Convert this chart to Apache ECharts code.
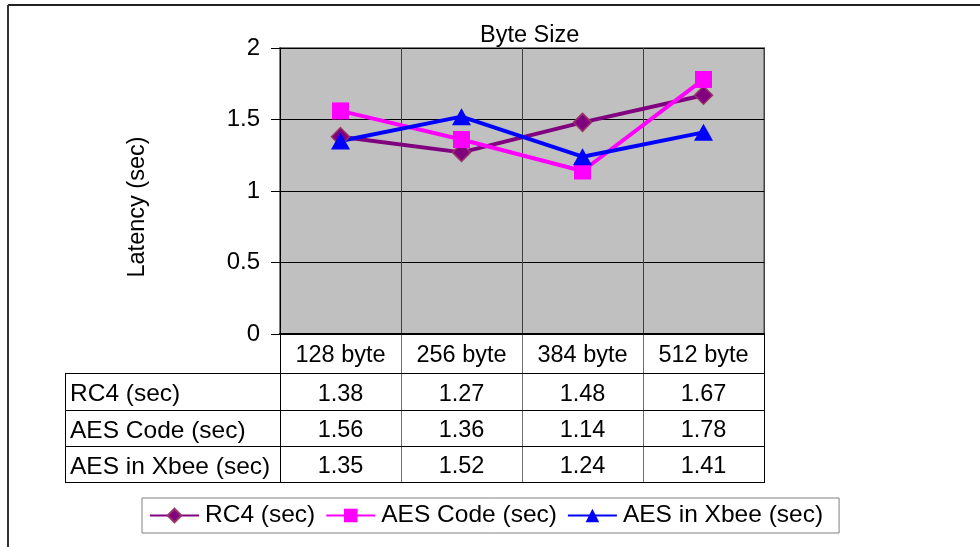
<!DOCTYPE html>
<html>
<head>
<meta charset="utf-8">
<script src="https://cdn.jsdelivr.net/npm/echarts@6/dist/echarts.min.js"></script>
<style>
  html, body { margin: 0; padding: 0; background: #fff; }
  #main { width: 980px; height: 547px; }
</style>
</head>
<body>
<div id="main"></div>
<script>
// data
const categories = ["128 byte", "256 byte", "384 byte", "512 byte"];
const seriesNames = ["RC4 (sec)", "AES Code (sec)", "AES in Xbee (sec)"];
const rc4 = [1.38, 1.27, 1.48, 1.67];
const aesCode = [1.56, 1.36, 1.14, 1.78];
const aesXbee = [1.35, 1.52, 1.24, 1.41];
const yMin = 0, yMax = 2, yStep = 0.5;

const FONT = "'Liberation Sans', Arial, sans-serif";
const colors = ["#800080", "#FF00FF", "#0000FF"];

const main = document.getElementById("main");
const myChart = echarts.init(main);

const option = {
  backgroundColor: "#fff",
  animation: false,
  title: {
    text: "Byte Size",
    left: 475,
    top: 19,
    textStyle: { fontFamily: FONT, fontSize: 23.5, fontWeight: "normal", color: "#000" }
  },
  grid: {
    left: 280,
    right: 216,
    top: 48,
    bottom: 213,
    show: true,
    backgroundColor: "#C0C0C0",
    borderColor: "#808080",
    borderWidth: 2
  },
  legend: {
    data: seriesNames,
    left: 142,
    top: 498,
    itemWidth: 49,
    itemHeight: 17,
    itemGap: 10,
    padding: [5, 16, 5, 7],
    borderColor: "#808080",
    borderWidth: 1,
    textStyle: { fontFamily: FONT, fontSize: 24.5, color: "#000", padding: [0, 0, 0, 1] }
  },
  xAxis: {
    type: "category",
    data: categories,
    boundaryGap: true,
    axisTick: { show: false },
    axisLine: { lineStyle: { color: "#000", width: 2 } },
    axisLabel: { fontFamily: FONT, fontSize: 23.5, color: "#000", margin: 10, interval: 0 },
    splitLine: { show: true, interval: 0, lineStyle: { color: "#404040", width: 1 } }
  },
  yAxis: {
    type: "value",
    min: yMin,
    max: yMax,
    interval: yStep,
    name: "Latency (sec)",
    nameLocation: "middle",
    nameGap: 130,
    nameTextStyle: { fontFamily: FONT, fontSize: 23.5, color: "#000", padding: [0, 32, 0, 0] },
    axisLine: { show: true, lineStyle: { color: "#000", width: 1 } },
    axisTick: { show: true, length: 9, lineStyle: { color: "#000" } },
    axisLabel: { fontFamily: FONT, fontSize: 24, color: "#000", margin: 20 },
    splitLine: { show: true, lineStyle: { color: "#000", width: 1 } }
  },
  series: [
    {
      name: seriesNames[0],
      type: "line",
      data: rc4,
      symbol: "diamond",
      symbolSize: [18, 18],
      lineStyle: { color: colors[0], width: 4 },
      itemStyle: { color: colors[0], borderColor: "#993366", borderWidth: 1.5 }
    },
    {
      name: seriesNames[1],
      type: "line",
      data: aesCode,
      symbol: "rect",
      symbolSize: [17, 17],
      lineStyle: { color: colors[1], width: 4 },
      itemStyle: { color: colors[1] }
    },
    {
      name: seriesNames[2],
      type: "line",
      data: aesXbee,
      symbol: "triangle",
      symbolSize: [19, 17],
      lineStyle: { color: colors[2], width: 4 },
      itemStyle: { color: colors[2] }
    }
  ]
};

myChart.setOption(option);

// data table under the plot, placed on the category axis
function buildTable() {
  const rows = [rc4, aesCode, aesXbee];
  const rowLines = [373, 410, 446, 482];
  const tableLeft = 65;
  const axisY = 334;
  const centers = categories.map((c, i) => myChart.convertToPixel({ xAxisIndex: 0 }, i));
  const half = (centers[1] - centers[0]) / 2;
  const right = centers[centers.length - 1] + half;
  const els = [];

  // frame of the whole chart (left and top edges)
  els.push({ type: "line", shape: { x1: 8, y1: 5, x2: 980, y2: 5 }, style: { stroke: "#222", lineWidth: 2 } });
  els.push({ type: "line", shape: { x1: 8, y1: 5, x2: 8, y2: 547 }, style: { stroke: "#333", lineWidth: 2 } });

  // vertical cell lines
  centers.forEach((cx, i) => {
    const x = Math.round(cx - half) + 0.5;
    els.push({ type: "line", shape: { x1: x, y1: axisY, x2: x, y2: rowLines[3] },
      style: { stroke: i === 0 ? "#000" : "#707070", lineWidth: 1 } });
  });
  els.push({ type: "line", shape: { x1: Math.round(right) + 0.5, y1: axisY, x2: Math.round(right) + 0.5, y2: rowLines[3] },
    style: { stroke: "#000", lineWidth: 1 } });
  els.push({ type: "line", shape: { x1: tableLeft + 0.5, y1: rowLines[0], x2: tableLeft + 0.5, y2: rowLines[3] },
    style: { stroke: "#000", lineWidth: 1 } });

  // horizontal row lines
  rowLines.forEach(y => {
    els.push({ type: "line", shape: { x1: tableLeft, y1: y + 0.5, x2: Math.round(right) + 1, y2: y + 0.5 },
      style: { stroke: "#000", lineWidth: 1 } });
  });

  // row labels and values
  rows.forEach((vals, r) => {
    const cy = (rowLines[r] + rowLines[r + 1]) / 2 + 3;
    els.push({ type: "text", x: tableLeft + 5, y: cy,
      style: { text: seriesNames[r], font: "24.5px " + FONT, fill: "#000", align: "left", verticalAlign: "middle" } });
    vals.forEach((v, i) => {
      els.push({ type: "text", x: centers[i], y: cy,
        style: { text: v.toFixed(2), font: "23.5px " + FONT, fill: "#000", align: "center", verticalAlign: "middle" } });
    });
  });

  myChart.setOption({ graphic: { elements: els } });
}

buildTable();
</script>
</body>
</html>
